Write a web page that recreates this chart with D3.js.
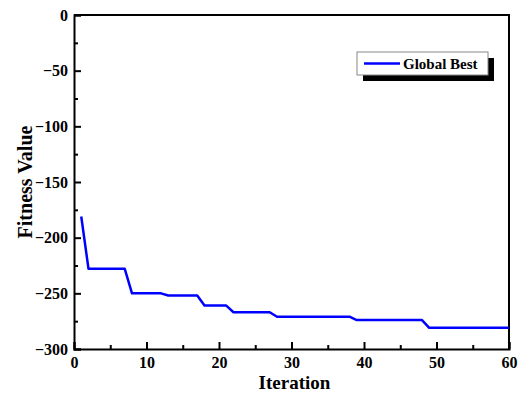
<!DOCTYPE html>
<html>
<head>
<meta charset="utf-8">
<script src="https://cdn.jsdelivr.net/npm/d3@7"></script>
<style>
  html, body { margin: 0; padding: 0; background: #fff; }
  svg { display: block; }
  text { font-family: "Liberation Serif", "Times New Roman", serif; font-weight: bold; fill: #000; }
</style>
</head>
<body>
<svg id="chart" width="519" height="394"></svg>
<script>
// ---- data ----
const iterations = d3.range(1, 61);
const globalBest = [
  -181,
  -228, -228, -228, -228, -228, -228,
  -250, -250, -250, -250, -250,
  -252, -252, -252, -252, -252,
  -261, -261, -261, -261,
  -267, -267, -267, -267, -267, -267,
  -271, -271, -271, -271, -271, -271, -271, -271, -271, -271, -271,
  -274, -274, -274, -274, -274, -274, -274, -274, -274, -274,
  -281, -281, -281, -281, -281, -281, -281, -281, -281, -281, -281, -281
];
const xTicks = [0, 10, 20, 30, 40, 50, 60];
const xMinorTicks = [5, 15, 25, 35, 45, 55];
const yTicks = [0, -50, -100, -150, -200, -250, -300];
const yMinorTicks = [-25, -75, -125, -175, -225, -275];
const seriesName = "Global Best";
const xTitle = "Iteration";
const yTitle = "Fitness Value";

// ---- layout ----
const svg = d3.select("#chart");
const L = 74, R = 509, T = 15, B = 349;
const x = d3.scaleLinear().domain([0, 60]).range([L, R]);
const y = d3.scaleLinear().domain([-300, 0]).range([B, T]);

// frame (top & right)
svg.append("path")
  .attr("d", `M${L},${T}H${R}V${B}`)
  .attr("fill", "none").attr("stroke", "#000").attr("stroke-width", 2);

// x axis
svg.append("g").attr("transform", `translate(0,${B})`)
  .call(d3.axisBottom(x).tickValues(xTicks).tickSize(-7).tickPadding(8).tickFormat(d3.format("d")));
svg.append("g").attr("transform", `translate(0,${B})`)
  .call(d3.axisBottom(x).tickValues(xMinorTicks).tickSize(-4).tickFormat(""))
  .select(".domain").remove();

// y axis
svg.append("g").attr("transform", `translate(${L},0)`)
  .call(d3.axisLeft(y).tickValues(yTicks).tickSize(-7).tickPadding(6).tickFormat(d3.format("d")));
svg.append("g").attr("transform", `translate(${L},0)`)
  .call(d3.axisLeft(y).tickValues(yMinorTicks).tickSize(-4).tickFormat(""))
  .select(".domain").remove();

svg.selectAll(".domain").attr("stroke-width", 2).attr("stroke", "#000");
svg.selectAll(".tick line").attr("stroke-width", 2).attr("stroke", "#000");
svg.selectAll(".tick text")
  .style("font-family", '"Liberation Serif", "Times New Roman", serif')
  .style("font-weight", "bold").style("font-size", "16px").attr("fill", "#000");

// line
const line = d3.line().x((d, i) => x(iterations[i])).y(d => y(d));
svg.append("path").datum(globalBest)
  .attr("d", line)
  .attr("fill", "none").attr("stroke", "#0000ff").attr("stroke-width", 2.5)
  .attr("stroke-linejoin", "round");

// axis titles
svg.append("text").attr("x", (L + R) / 2 + 3).attr("y", 389)
  .attr("text-anchor", "middle").style("font-size", "19px").text(xTitle);
svg.append("text").attr("transform", `translate(32,${(T + B) / 2}) rotate(-90)`)
  .attr("text-anchor", "middle").style("font-size", "20px").text(yTitle);

// legend
const lg = svg.append("g");
lg.append("rect").attr("x", 363).attr("y", 58).attr("width", 131).attr("height", 23).attr("fill", "#000");
lg.append("rect").attr("x", 357).attr("y", 52).attr("width", 131).attr("height", 23)
  .attr("fill", "#fff").attr("stroke", "#888").attr("stroke-width", 1);
lg.append("line").attr("x1", 364).attr("x2", 400).attr("y1", 63.5).attr("y2", 63.5)
  .attr("stroke", "#0000ff").attr("stroke-width", 2.5);
lg.append("text").attr("x", 403).attr("y", 69).style("font-size", "15px").text(seriesName);
</script>
</body>
</html>
